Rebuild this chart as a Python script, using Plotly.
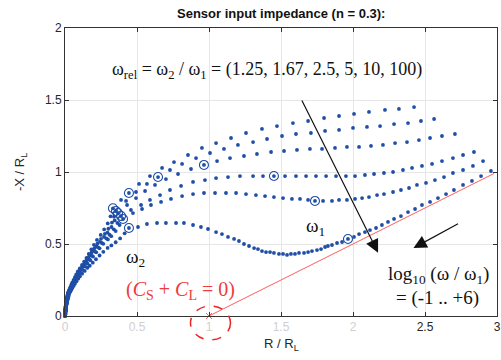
import plotly.graph_objects as go

# ---------------- data ----------------
omega_rel = [1.25, 1.67, 2.5, 5, 10, 100]

# curve for omega_rel = 1.25  (points ordered from low to high frequency)
r_a = [2.424, 2.319, 2.222, 2.111, 2.007, 1.903, 1.799, 1.688, 1.583, 1.472, 1.368, 1.257, 1.153, 1.049, 0.951,
       0.854, 0.757, 0.674, 0.590, 0.514, 0.444, 0.389, 0.333,
       0.316, 0.297, 0.272, 0.248, 0.222, 0.201, 0.183, 0.165, 0.149, 0.133, 0.118, 0.103, 0.089, 0.078, 0.069,
       0.060, 0.051, 0.044, 0.037, 0.032, 0.026, 0.020, 0.018, 0.016, 0.014, 0.012, 0.011, 0.009, 0.008, 0.007]
x_a = [1.451, 1.438, 1.431, 1.417, 1.403, 1.389, 1.375, 1.354, 1.340, 1.319, 1.299, 1.271, 1.236, 1.201, 1.167,
       1.118, 1.069, 1.028, 0.972, 0.917, 0.854, 0.806, 0.748,
       0.692, 0.643, 0.601, 0.563, 0.528, 0.494, 0.463, 0.432, 0.403, 0.378, 0.354, 0.330, 0.309, 0.289, 0.270,
       0.251, 0.233, 0.217, 0.201, 0.188, 0.174, 0.160, 0.148, 0.136, 0.125, 0.115, 0.105, 0.096, 0.087, 0.079]
w1_a, w2_a = 20, 22

# omega_rel = 1.67
r_b = [2.563, 2.472, 2.382, 2.285, 2.188, 2.097, 2.000, 1.903, 1.806, 1.708, 1.604, 1.507, 1.403, 1.306, 1.201,
       1.104, 1.007, 0.910, 0.813, 0.729, 0.646, 0.569, 0.493, 0.424, 0.354,
       0.340, 0.326, 0.301, 0.277, 0.250, 0.225, 0.204, 0.184, 0.166, 0.149, 0.133, 0.117, 0.102, 0.089, 0.078,
       0.069, 0.059, 0.051, 0.043, 0.037, 0.031, 0.025, 0.020, 0.017, 0.015, 0.013, 0.012, 0.010, 0.009, 0.008, 0.007]
x_b = [1.368, 1.354, 1.340, 1.333, 1.319, 1.313, 1.306, 1.292, 1.285, 1.271, 1.264, 1.250, 1.229, 1.208, 1.188,
       1.160, 1.132, 1.097, 1.056, 1.014, 0.965, 0.917, 0.861, 0.799, 0.729,
       0.690, 0.649, 0.606, 0.571, 0.536, 0.503, 0.471, 0.441, 0.412, 0.386, 0.362, 0.339, 0.317, 0.296, 0.277,
       0.259, 0.240, 0.224, 0.208, 0.194, 0.180, 0.167, 0.154, 0.142, 0.130, 0.120, 0.110, 0.100, 0.091, 0.083, 0.075]
w1_b, w2_b = 20, 24

# omega_rel = 2.5
r_c = [2.708, 2.618, 2.535, 2.458, 2.375, 2.292, 2.208, 2.125, 2.042, 1.958, 1.875, 1.785, 1.701, 1.611, 1.521,
       1.431, 1.333, 1.243, 1.146, 1.056, 0.965, 0.875, 0.785, 0.701, 0.625, 0.556, 0.493, 0.431, 0.368,
       0.345, 0.323, 0.295, 0.271, 0.243, 0.219, 0.199, 0.179, 0.161, 0.144, 0.128, 0.112, 0.097, 0.085, 0.075,
       0.065, 0.056, 0.048, 0.041, 0.035, 0.029, 0.022, 0.020, 0.018, 0.015, 0.013, 0.012, 0.010, 0.009, 0.008]
x_c = [1.264, 1.250, 1.236, 1.222, 1.208, 1.201, 1.188, 1.181, 1.174, 1.174, 1.167, 1.160, 1.160, 1.153, 1.146,
       1.139, 1.125, 1.111, 1.097, 1.076, 1.049, 1.021, 0.986, 0.951, 0.910, 0.868, 0.819, 0.771, 0.715,
       0.664, 0.618, 0.579, 0.549, 0.515, 0.483, 0.453, 0.423, 0.395, 0.371, 0.349, 0.326, 0.305, 0.286, 0.267,
       0.248, 0.231, 0.215, 0.199, 0.186, 0.174, 0.160, 0.148, 0.136, 0.125, 0.115, 0.105, 0.096, 0.087, 0.079]
w1_c, w2_c = 20, 28

# omega_rel = 5
r_d = [2.840, 2.764, 2.694, 2.618, 2.549, 2.479, 2.410, 2.347, 2.278, 2.215, 2.146, 2.083, 2.014, 1.951, 1.882,
       1.813, 1.743, 1.674, 1.604, 1.528, 1.451, 1.375, 1.306, 1.215, 1.132, 1.049, 0.972, 0.889, 0.806, 0.729,
       0.660, 0.590, 0.528, 0.458, 0.389,
       0.364, 0.339, 0.309, 0.287, 0.256, 0.231, 0.209, 0.188, 0.169, 0.151, 0.135, 0.118, 0.102, 0.089, 0.079,
       0.069, 0.059, 0.051, 0.043, 0.037, 0.031, 0.024, 0.022, 0.019, 0.017, 0.015, 0.013, 0.011, 0.010, 0.009]
x_d = [1.139, 1.118, 1.097, 1.076, 1.056, 1.042, 1.028, 1.014, 1.000, 0.993, 0.986, 0.979, 0.972, 0.972, 0.972,
       0.972, 0.972, 0.972, 0.972, 0.972, 0.972, 0.972, 0.972, 0.972, 0.965, 0.958, 0.944, 0.931, 0.903, 0.875,
       0.840, 0.806, 0.771, 0.736, 0.694,
       0.646, 0.602, 0.565, 0.539, 0.507, 0.476, 0.447, 0.418, 0.391, 0.367, 0.346, 0.323, 0.303, 0.283, 0.265,
       0.247, 0.229, 0.214, 0.198, 0.185, 0.173, 0.159, 0.147, 0.135, 0.124, 0.114, 0.105, 0.096, 0.087, 0.079]
w1_d, w2_d = 20, 34

# omega_rel = 10
r_e = [2.903, 2.833, 2.764, 2.694, 2.632, 2.569, 2.507, 2.444, 2.389, 2.333, 2.278, 2.215, 2.167, 2.111, 2.063,
       2.014, 1.958, 1.903, 1.854, 1.792, 1.736, 1.688, 1.632, 1.576, 1.514, 1.451, 1.389, 1.326, 1.257, 1.188,
       1.118, 1.042, 0.965, 0.889, 0.813, 0.736, 0.667, 0.597, 0.535, 0.472, 0.403,
       0.379, 0.352, 0.321, 0.298, 0.266, 0.240, 0.217, 0.195, 0.176, 0.156, 0.140, 0.122, 0.106, 0.093, 0.082,
       0.072, 0.061, 0.053, 0.045, 0.039, 0.033, 0.026, 0.023, 0.020, 0.018, 0.016, 0.014, 0.012, 0.010, 0.009]
x_e = [1.076, 1.042, 1.014, 0.993, 0.965, 0.944, 0.924, 0.910, 0.889, 0.875, 0.861, 0.847, 0.840, 0.826, 0.819,
       0.813, 0.806, 0.806, 0.799, 0.799, 0.799, 0.806, 0.813, 0.813, 0.819, 0.826, 0.833, 0.840, 0.847, 0.854,
       0.854, 0.854, 0.854, 0.847, 0.833, 0.813, 0.792, 0.771, 0.743, 0.715, 0.674,
       0.632, 0.590, 0.554, 0.532, 0.501, 0.470, 0.442, 0.413, 0.387, 0.364, 0.343, 0.321, 0.301, 0.282, 0.264,
       0.245, 0.228, 0.213, 0.197, 0.185, 0.172, 0.159, 0.147, 0.135, 0.124, 0.114, 0.104, 0.095, 0.086, 0.078]
w1_e, w2_e = 20, 40

# omega_rel = 100
r_f = [2.958, 2.889, 2.826, 2.764, 2.701, 2.646, 2.590, 2.535, 2.479, 2.431, 2.382, 2.333, 2.285, 2.243, 2.201,
       2.160, 2.118, 2.083, 2.042, 2.007, 1.965,
       1.924, 1.889, 1.854, 1.826, 1.806, 1.778, 1.750, 1.715, 1.688, 1.660, 1.625, 1.597, 1.569, 1.542, 1.514,
       1.486, 1.451, 1.424, 1.396, 1.368, 1.340, 1.313, 1.278, 1.243, 1.208, 1.174, 1.132, 1.090, 1.049, 0.993,
       0.944, 0.889, 0.826, 0.771, 0.701, 0.639, 0.569, 0.507, 0.444,
       0.414, 0.383, 0.352, 0.322, 0.296, 0.266, 0.240, 0.215, 0.193, 0.172, 0.156, 0.137, 0.119, 0.104, 0.092,
       0.080, 0.069, 0.060, 0.051, 0.044, 0.038, 0.030, 0.027, 0.024, 0.021, 0.018, 0.016, 0.014, 0.012, 0.011]
x_f = [1.007, 0.972, 0.938, 0.910, 0.875, 0.847, 0.819, 0.792, 0.771, 0.743, 0.722, 0.694, 0.674, 0.653, 0.632,
       0.611, 0.597, 0.583, 0.569, 0.549, 0.535,
       0.514, 0.507, 0.493, 0.486, 0.479, 0.465, 0.458, 0.451, 0.444, 0.438, 0.438, 0.431, 0.431, 0.424, 0.431,
       0.431, 0.438, 0.444, 0.444, 0.451, 0.465, 0.472, 0.486, 0.500, 0.521, 0.535, 0.549, 0.569, 0.583, 0.604,
       0.618, 0.632, 0.646, 0.646, 0.646, 0.646, 0.639, 0.618, 0.611,
       0.574, 0.539, 0.512, 0.490, 0.473, 0.446, 0.420, 0.394, 0.370, 0.349, 0.335, 0.313, 0.294, 0.276, 0.259,
       0.241, 0.224, 0.209, 0.194, 0.182, 0.171, 0.158, 0.146, 0.134, 0.123, 0.113, 0.104, 0.095, 0.086, 0.078]
w1_f, w2_f = 20, 59

# dense high-frequency end near the origin (common to all curves)
r_tail = [0.006, 0.005, 0.005, 0.004, 0.004, 0.003, 0.003, 0.002, 0.002, 0.002, 0.001, 0.001, 0.0, 0.0, 0.0]
x_tail = [0.071, 0.064, 0.057, 0.051, 0.045, 0.040, 0.035, 0.031, 0.027, 0.023, 0.017, 0.012, 0.007, 0.004, 0.001]

# C_S + C_L = 0 locus (R_L + CPE, n = 0.3)
cpe_r = [1.0, 2.98]
cpe_x = [0.0, 0.99]

x_ticks = [0, 0.5, 1, 1.5, 2, 2.5, 3]
x_tick_labels = ["0", "0.5", "1", "1.5", "2", "2.5", "3"]
y_ticks = [0, 0.5, 1, 1.5, 2]
y_tick_labels = ["0", "0.5", "1", "1.5", "2"]

# ---------------- figure ----------------
BLUE = "#1f4ea6"
RED = "#ff5c5c"
SANS = "Liberation Sans, Arial, sans-serif"
SERIF = "Liberation Serif, Times New Roman, serif"

curves = [(r_a, x_a, w1_a, w2_a), (r_b, x_b, w1_b, w2_b), (r_c, x_c, w1_c, w2_c),
          (r_d, x_d, w1_d, w2_d), (r_e, x_e, w1_e, w2_e), (r_f, x_f, w1_f, w2_f)]

fig = go.Figure()

fig.add_trace(go.Scatter(x=cpe_r, y=cpe_x, mode="lines", line=dict(color=RED, width=1),
                         hoverinfo="skip", showlegend=False))
fig.add_trace(go.Scatter(x=cpe_r[:1], y=cpe_x[:1], mode="markers",
                         marker=dict(symbol="x-thin-open", size=6, color=RED, line=dict(width=1, color=RED)),
                         cliponaxis=False, hoverinfo="skip", showlegend=False))

for (rr, xx, i1, i2), wr in zip(curves, omega_rel):
    fig.add_trace(go.Scatter(x=rr + r_tail, y=xx + x_tail, mode="markers", name=f"ω_rel = {wr}",
                             marker=dict(size=3.8, color=BLUE, line=dict(width=0)),
                             cliponaxis=False, showlegend=False))
    fig.add_trace(go.Scatter(x=[rr[i1], rr[i2]], y=[xx[i1], xx[i2]], mode="markers",
                             marker=dict(symbol="circle-open", size=9, color=BLUE, line=dict(width=1.1, color=BLUE)),
                             cliponaxis=False, hoverinfo="skip", showlegend=False))

ann = []
ann.append(dict(text="<b>Sensor input impedance (n = 0.3):</b>", xref="paper", yref="paper", x=0.5, y=1.049,
                showarrow=False, font=dict(family=SANS, size=13, color="#111111"), xanchor="center", yanchor="middle"))
ann.append(dict(text="ω<sub>rel</sub> = ω<sub>2</sub> / ω<sub>1</sub> = (1.25, 1.67, 2.5, 5, 10, 100)",
                x=1.40, y=1.708, showarrow=False, font=dict(family=SERIF, size=18, color="#111111"),
                xanchor="center", yanchor="middle"))
ann.append(dict(text="ω<sub>1</sub>", x=1.74, y=0.62, showarrow=False,
                font=dict(family=SERIF, size=19, color="#111111"), xanchor="center", yanchor="middle"))
ann.append(dict(text="ω<sub>2</sub>", x=0.49, y=0.40, showarrow=False,
                font=dict(family=SERIF, size=19, color="#111111"), xanchor="center", yanchor="middle"))
ann.append(dict(text="(<i>C</i><sub>S</sub> + <i>C</i><sub>L</sub> = 0)", x=0.8, y=0.18, showarrow=False,
                font=dict(family=SERIF, size=20, color="#ee3b3b"), xanchor="center", yanchor="middle"))
ann.append(dict(text="log<sub>10</sub> (ω / ω<sub>1</sub>)", x=2.597, y=0.285, showarrow=False,
                font=dict(family=SERIF, size=19, color="#111111"), xanchor="center", yanchor="middle"))
ann.append(dict(text="= (-1 .. +6)", x=2.59, y=0.125, showarrow=False,
                font=dict(family=SERIF, size=19, color="#111111"), xanchor="center", yanchor="middle"))
# arrows
ann.append(dict(text="", x=2.174, y=0.44, ax=1.64, ay=1.507, axref="x", ayref="y", showarrow=True,
                arrowhead=2, arrowsize=2.2, arrowwidth=1.2, arrowcolor="#111111", standoff=0))
ann.append(dict(text="", x=2.42, y=0.472, ax=2.74, ay=0.646, axref="x", ayref="y", showarrow=True,
                arrowhead=2, arrowsize=2.2, arrowwidth=1.2, arrowcolor="#111111", standoff=0))
# axis titles
ann.append(dict(text="R / R<sub>L</sub>", xref="paper", yref="paper", x=0.5, y=-0.10, showarrow=False,
                font=dict(family=SANS, size=13, color="#262626"), xanchor="center", yanchor="middle"))
ann.append(dict(text="-X / R<sub>L</sub>", xref="paper", yref="paper", x=-0.104, y=0.5, showarrow=False,
                textangle=-90, font=dict(family=SANS, size=13, color="#262626"), xanchor="center", yanchor="middle"))

xt = []
for v, lab in zip(x_ticks, x_tick_labels):
    col = "#262626" if v >= 2.5 else "#cfcfcf"
    xt.append(f'<span style="color:{col}">{lab}</span>')

fig.update_layout(
    width=501, height=360,
    margin=dict(l=65, r=4, t=28, b=44, autoexpand=False),
    paper_bgcolor="white", plot_bgcolor="white",
    annotations=ann,
    shapes=[dict(type="circle", xref="paper", yref="paper", x0=0.2905, x1=0.3831, y0=-0.083, y1=0.035,
                 line=dict(color="#ee2222", width=1.5, dash="dash"), layer="above")],
    xaxis=dict(range=[0, 3], tickvals=x_ticks, ticktext=xt, showgrid=True, gridcolor="#e6e6e6", gridwidth=1,
               zeroline=False, showline=True, linecolor="#333333", linewidth=1, mirror="ticks",
               ticks="inside", ticklen=4, tickcolor="#333333", automargin=False,
               tickfont=dict(family=SANS, size=12, color="#262626")),
    yaxis=dict(range=[0, 2], tickvals=y_ticks, ticktext=y_tick_labels, showgrid=True, gridcolor="#e6e6e6",
               gridwidth=1, zeroline=False, showline=True, linecolor="#333333", linewidth=1, mirror="ticks",
               ticks="inside", ticklen=4, tickcolor="#333333", automargin=False,
               tickfont=dict(family=SANS, size=12, color="#262626")),
)

fig.write_html("out.html", config={"displayModeBar": False},
               post_script="document.body.style.margin='0';document.body.style.overflow='hidden';")
